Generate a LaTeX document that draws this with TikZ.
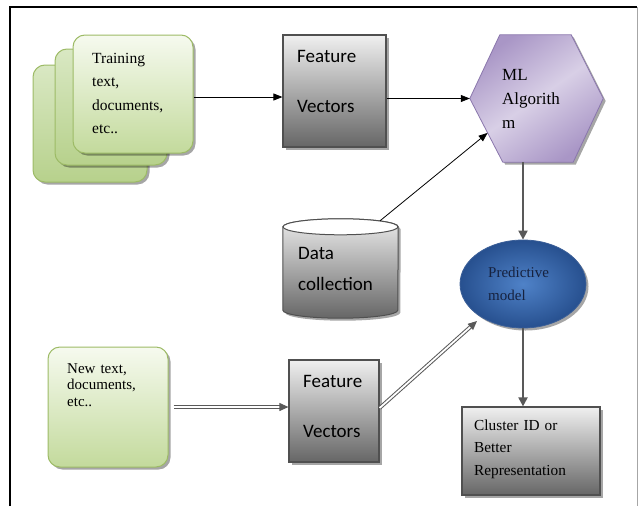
\documentclass[tikz,border=0pt]{standalone}
\usepackage{fontspec}
\setmainfont{Liberation Serif}
\newfontfamily\calfont{Carlito}
\usetikzlibrary{arrows.meta,shapes.geometric,shadows,calc}
\definecolor{gborder}{HTML}{9DBB66}
\definecolor{gtop}{HTML}{F6FAEF}
\definecolor{gbot}{HTML}{C3DA9C}
\definecolor{gbacktop}{HTML}{D9E8C3}
\definecolor{gbackbot}{HTML}{B7D18C}
\definecolor{grayborder}{HTML}{505050}
\definecolor{graybot}{HTML}{666666}
\definecolor{graymid}{HTML}{BDBDBD}
\definecolor{hexdark}{HTML}{A996C6}
\definecolor{hexlight}{HTML}{D8CFE6}
\definecolor{hexborder}{HTML}{8A76AC}
\definecolor{blueinner}{HTML}{4F82C8}
\definecolor{blueouter}{HTML}{27508F}
\definecolor{blueborder}{HTML}{3B5F98}
\definecolor{navytext}{HTML}{16223F}
\definecolor{arrowgray}{HTML}{595959}
\begin{document}
\begin{tikzpicture}[x=1pt,y=1pt,
  shadowed/.style={drop shadow={shadow xshift=2.5pt,shadow yshift=-2.5pt,opacity=0.35,fill=black}},
  greenfront/.style={rectangle,rounded corners=12pt,draw=gborder,line width=1pt,top color=gtop,bottom color=gbot,shadowed,inner sep=0pt},
  greenback/.style={rectangle,rounded corners=12pt,draw=gborder,line width=1pt,top color=gbacktop,bottom color=gbackbot,shadowed,inner sep=0pt},
  graybox/.style={rectangle,draw=grayborder,line width=1.2pt,top color=white!94!black,middle color=graymid,bottom color=graybot,shadowed,inner sep=0pt},
  serifl/.style={anchor=base west,inner sep=0pt,align=left,text width=#1},
  thinarrow/.style={draw=black,line width=0.8pt,-{Triangle[length=9pt,width=7pt]}},
  grayarrow/.style={draw=arrowgray,line width=2pt,-{Triangle[length=9pt,width=9pt]}},
  dblarrow/.style={draw=arrowgray,line width=1pt,double=white,double distance=1.8pt,-{Triangle[length=9pt,width=8pt]}},
]
\useasboundingbox (0,0) rectangle (639,-506);
% frame
\draw[line width=2pt] (10,-506) -- (10,-7) -- (637,-7);
\draw[line width=0.8pt,black!35] (637,-7) -- (637,-506);

% training stack
\node[greenback,minimum width=114,minimum height=117] (bk3) at (90,-123.5) {};
\node[greenback,minimum width=112,minimum height=116] (bk2) at (111,-107) {};
\node[greenfront,minimum width=120,minimum height=118] (train) at (133,-94) {};
\node[serifl=100,font=\fontsize{15.5}{23.5}\selectfont] (traintxt) at (92,-63)
  {Training\\text,\\documents,\\etc..};

% feature vectors 1
\node[graybox,minimum width=103,minimum height=112] (fv1) at (334.5,-91) {};
\node[serifl=90,font=\calfont\fontsize{19}{50}\selectfont] (fv1txt) at (297,-62)
  {Feature\\Vectors};

% hexagon
\node[minimum width=133,minimum height=127,inner sep=0pt] (ml) at (536.5,-98.5) {};
\path[draw=hexborder,line width=0.8pt,left color=hexdark,right color=hexdark,middle color=hexlight,shading angle=35,shadowed]
  (ml.west) -- ([xshift=30]ml.north west) -- ([xshift=-32]ml.north east)
  -- (ml.east) -- ([xshift=-30]ml.south east) -- ([xshift=33]ml.south west) -- cycle;
\node[serifl=70,font=\fontsize{17}{24}\selectfont] (mltxt) at (502,-80)
  {ML\\Algorith\\m};
\coordinate (hexsw) at ($(ml.west)!0.54!([xshift=33]ml.south west)$);

% data collection cylinder
\node[minimum width=115,minimum height=83,inner sep=0pt] (dc) at (340.5,-268.5) {};
\path[draw=grayborder,line width=1pt,top color=white!92!black,middle color=graymid,bottom color=graybot,shadowed]
  (dc.north west) -- (dc.south west) arc[start angle=180,end angle=360,x radius=57.5,y radius=8]
  -- (dc.north east) arc[start angle=0,end angle=180,x radius=57.5,y radius=8] -- cycle;
\draw[draw=grayborder,line width=1pt,fill=white] (dc.north) ellipse[x radius=57.5,y radius=8];
\node[serifl=100,font=\calfont\fontsize{19}{31}\selectfont] (dctxt) at (298,-259)
  {Data\\collection};
\coordinate (dctop) at ([shift={(39.5,6)}]dc.north);

% predictive model
\node[ellipse,minimum width=126,minimum height=88,inner sep=0pt,draw=blueborder,line width=0.8pt,inner color=blueinner,outer color=blueouter,shadowed] (pm) at (523,-284) {};
\node[serifl=90,font=\fontsize{15}{23}\selectfont,text=navytext] (pmtxt) at (488,-277)
  {Predictive\\model};
\coordinate (pmsw) at ([shift={(-46,-37)}]pm.center);

% new text
\node[greenfront,minimum width=120,minimum height=120] (nt) at (108,-407) {};
\node[serifl=100,font=\fontsize{15}{16.5}\selectfont] (nttxt) at (67,-373)
  {New text,\\documents,\\etc..};

% feature vectors 2
\node[graybox,minimum width=90,minimum height=102] (fv2) at (334,-411) {};
\node[serifl=80,font=\calfont\fontsize{19}{50}\selectfont] (fv2txt) at (303,-387)
  {Feature\\Vectors};

% cluster
\node[graybox,minimum width=138,minimum height=88] (cl) at (531,-451) {};
\node[serifl=130,font=\fontsize{15.3}{22.5}\selectfont] (cltxt) at (474,-430)
  {Cluster ID or\\Better\\Representation};

% connectors
\draw[thinarrow] ([yshift=-3]train.east) -- ([yshift=-3]train.east -| fv1.west);
\draw[thinarrow] (fv1.east |- ml.west) -- (ml.west);
\draw[thinarrow] (dctop) -- (hexsw);
\draw[grayarrow] (pm.north |- ml.south) -- (pm.north);
\draw[grayarrow] (pm.south) -- (pm.south |- cl.north);
\draw[dblarrow] ([xshift=5]nt.east) -- (nt.east -| fv2.west);
\draw[dblarrow] ([yshift=3]fv2.east) -- (pmsw);
\end{tikzpicture}
\end{document}
